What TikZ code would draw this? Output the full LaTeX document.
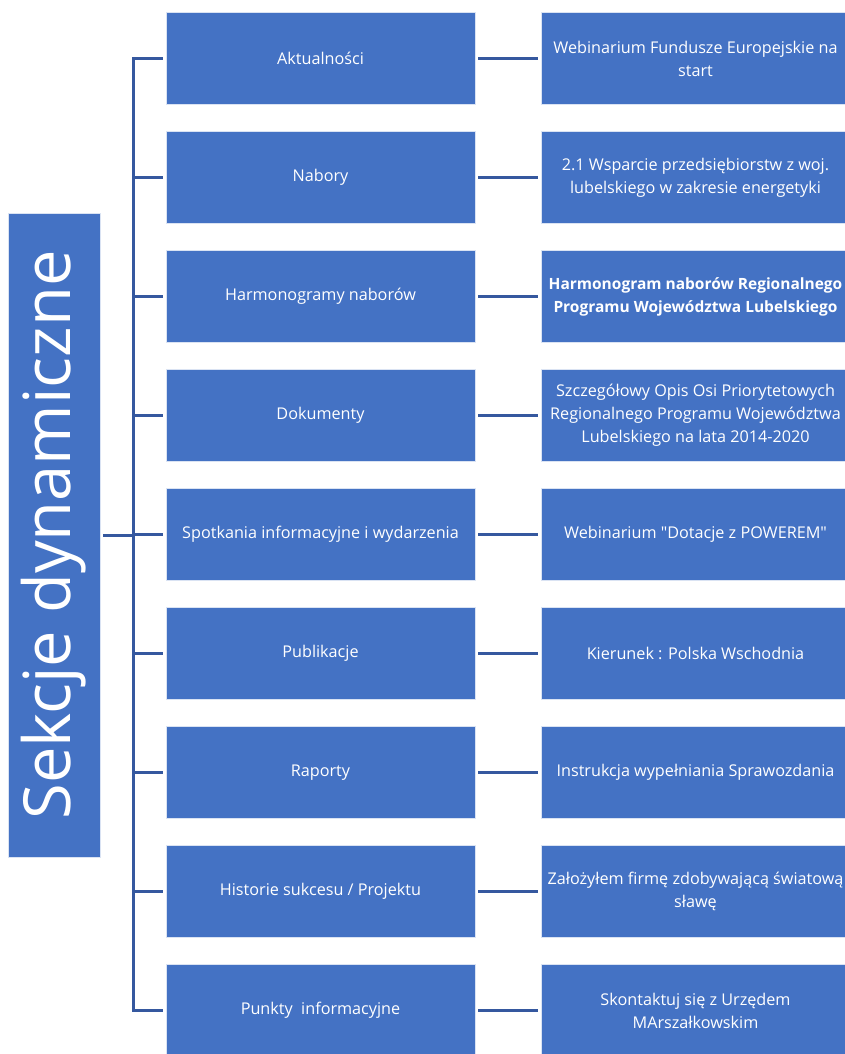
\documentclass[tikz,border=0pt]{standalone}
\usepackage{fontspec}
\setmainfont{Open Sans}
\newfontfamily\plainfont{Open Sans}
\definecolor{boxblue}{HTML}{4472C4}
\definecolor{linkblue}{HTML}{35589F}
\begin{document}
\begin{tikzpicture}[x=1pt,y=-1pt,
 cell/.style={fill=boxblue, draw=white!80!boxblue, line width=0.8pt, minimum width=309pt, minimum height=92pt, text=white, font=\fontsize{16.2}{23}\selectfont, align=center, inner sep=0pt},
 link/.style={draw=linkblue, line width=3pt},
 gap/.style={shorten <=3pt, shorten >=3pt}]
\useasboundingbox (0,0) rectangle (844,1054);
\node[cell, rotate=90, minimum width=644pt, minimum height=92pt, font=\fontsize{65}{65}\selectfont] (root) at (54,535) {Sekcje dynamiczne};
\node[cell] (m1) at (320.5,58.7) {Aktualności};
\node[cell] (m2) at (320.5,177.7) {Nabory};
\node[cell] (m3) at (320.5,296.7) {Harmonogramy naborów};
\node[cell] (m4) at (320.5,415.7) {Dokumenty};
\node[cell] (m5) at (320.5,534.7) {Spotkania informacyjne i wydarzenia};
\node[cell] (m6) at (320.5,653.7) {Publikacje};
\node[cell] (m7) at (320.5,772.7) {Raporty};
\node[cell] (m8) at (320.5,891.7) {Historie sukcesu / Projektu};
\node[cell] (m9) at (320.5,1010.7) {Punkty\ \ informacyjne};
\node[cell] (r1) at (695.5,58.7) {Webinarium Fundusze Europejskie na\\start};
\node[cell] (r2) at (695.5,177.7) {2.1 Wsparcie przedsiębiorstw z woj.\\lubelskiego w zakresie energetyki};
\node[cell, font=\fontsize{15.5}{23}\selectfont\bfseries] (r3) at (695.5,296.7) {Harmonogram naborów Regionalnego\\Programu Województwa Lubelskiego};
\node[cell] (r4) at (695.5,415.7) {Szczegółowy Opis Osi Priorytetowych\\Regionalnego Programu Województwa\\Lubelskiego na lata 2014-2020};
\node[cell] (r5) at (695.5,534.7) {Webinarium {\plainfont"}Dotacje z POWEREM{\plainfont"}};
\node[cell] (r6) at (695.5,653.7) {Kierunek : Polska Wschodnia};
\node[cell] (r7) at (695.5,772.7) {Instrukcja wypełniania Sprawozdania};
\node[cell] (r8) at (695.5,891.7) {Założyłem firmę zdobywającą światową\\sławę};
\node[cell] (r9) at (695.5,1010.7) {Skontaktuj się z Urzędem\\MArszałkowskim};
\coordinate (ttop) at (133,58.7);
\coordinate (tbot) at (133,1010.7);
\draw[link, shorten <=3pt] (m1.west) -- (ttop) -- (tbot) -- ([xshift=-3pt]m9.west);
\foreach \i in {2,...,8} {
  \draw[link, shorten <=3pt] (m\i.west) -- (m\i.west -| ttop);
}
\draw[link, shorten <=3pt] (root.south) -- (root.south -| ttop);
\foreach \i in {1,...,9} {
  \draw[link, gap] (m\i.east) -- (r\i.west);
}
\end{tikzpicture}
\end{document}
